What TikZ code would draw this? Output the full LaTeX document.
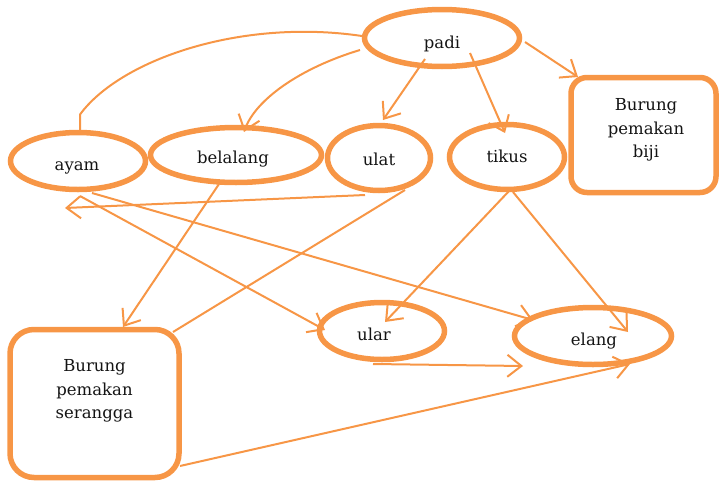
\documentclass[tikz,border=0pt]{standalone}
\usepackage{fontspec}
\setmainfont{DejaVu Serif}
\usetikzlibrary{arrows.meta,calc,shapes.geometric}
\definecolor{org}{HTML}{F79646}
\begin{document}
\begin{tikzpicture}[x=1pt,y=-1pt,
  ell/.style={draw=org, line width=5.5pt, ellipse, inner sep=0pt, outer sep=0pt},
  rbox/.style={draw=org, line width=5.5pt, rectangle, inner sep=0pt, outer sep=0pt},
  txt/.style={text=black!92, font=\fontsize{16.5}{23.5}\selectfont, inner sep=0pt, align=center},
  link/.style={draw=org, line width=2pt},
  arr/.style={link, -{Straight Barb[length=14pt,width=22pt]}}]
\useasboundingbox (0,0) rectangle (720,482);
% shapes
\node[ell, minimum width=155, minimum height=57] (padi) at (442,38) {};
\node[ell, minimum width=135, minimum height=57] (ayam) at (78,161) {};
\node[ell, minimum width=171, minimum height=55] (belalang) at (236,155) {};
\node[ell, minimum width=103, minimum height=65] (ulat) at (379,158) {};
\node[ell, minimum width=115, minimum height=65] (tikus) at (507,157) {};
\node[ell, minimum width=125, minimum height=57] (ular) at (382,331) {};
\node[ell, minimum width=157, minimum height=57] (elang) at (593,336) {};
\node[rbox, rounded corners=16pt, minimum width=145, minimum height=115] (biji) at (643.5,135) {};
\node[rbox, rounded corners=24pt, minimum width=169, minimum height=148] (serangga) at (94.5,403.5) {};
% texts
\node[txt, anchor=base] (tpadi) at (442,48) {padi};
\node[txt, anchor=base] (tayam) at (77,170) {ayam};
\node[txt, anchor=base] (tbelalang) at (233,163) {belalang};
\node[txt, anchor=base] (tulat) at (379,165) {ulat};
\node[txt, anchor=base] (ttikus) at (507,162) {tikus};
\node[txt, anchor=base] (tular) at (374,340) {ular};
\node[txt, anchor=base] (telang) at (594,345) {elang};
\node[txt] (tbiji) at (646,130) {Burung\\pemakan\\biji};
\node[txt] (tserangga) at (94.5,391) {Burung\\pemakan\\serangga};
% connectors
\draw[link] ($(padi)+(-80,-2)$) .. controls (240,18) and (120,60) .. ($(ayam.north)+(2,-18)$) -- ($(ayam.north)+(2,0)$);
\draw[arr] ($(padi)+(-82,12)$) .. controls (300,68) and (255,100) .. ($(belalang)+(8,-23)$);
\draw[arr] ($(padi)+(-17,21)$) -- ($(ulat)+(4,-38)$);
\draw[arr] ($(padi)+(28,15)$) -- ($(tikus)+(-2,-24)$);
\draw[arr] ($(padi)+(83,4)$) -- ($(biji)+(-65.5,-58)$);
\draw[arr] ($(ulat)+(-14,37)$) -- ($(ayam)+(-13,47)$);
\draw[arr] ($(ayam)+(2,35)$) -- ($(ular)+(-57,-1)$);
\draw[arr] ($(ayam)+(14,32)$) -- ($(elang)+(-60,-16)$);
\draw[arr] ($(belalang)+(-17,29)$) -- ($(serangga)+(28.5,-76.5)$);
\draw[link] ($(ulat)+(26,32)$) -- ($(serangga)+(78.5,-71.5)$);
\draw[arr] ($(tikus)+(3,33)$) -- ($(ular)+(3,-9)$);
\draw[arr] ($(tikus)+(6,35)$) -- ($(elang)+(35,-4)$);
\draw[arr] ($(ular)+(-9,33)$) -- ($(elang)+(-70,30)$);
\draw[arr] ($(serangga)+(85.5,62.5)$) -- ($(elang)+(37,28)$);
\end{tikzpicture}
\end{document}
